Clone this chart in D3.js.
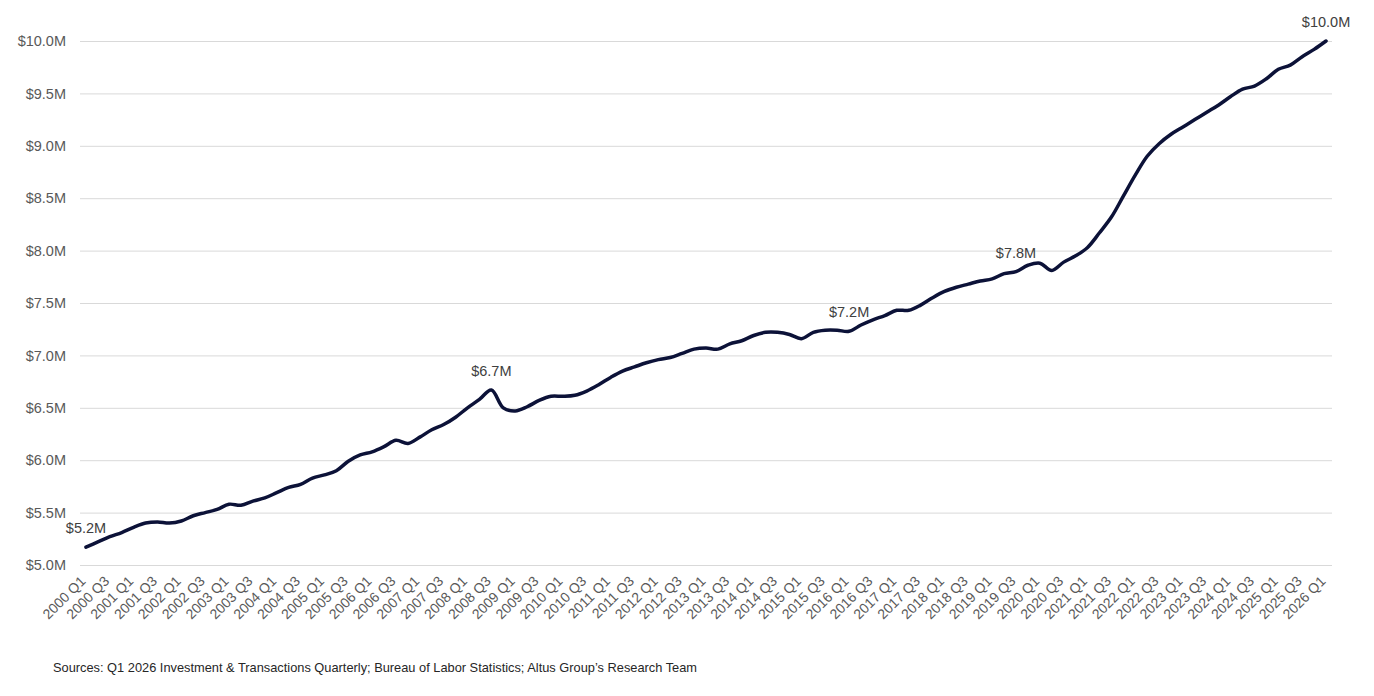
<!DOCTYPE html>
<html>
<head>
<meta charset="utf-8">
<script src="https://cdn.jsdelivr.net/npm/d3@7"></script>
<style>
  body { margin: 0; background: #fff; }
  text { font-family: "Liberation Sans", Arial, sans-serif; }
</style>
</head>
<body>
<svg class="chart-svg"></svg>
<script>
let margin = ({top: 41, right: 42, bottom: 131, left: 80});
let size = {width: 1374, height: 696};
const innerWidth = size.width - margin.left - margin.right;
const innerHeight = size.height - margin.top - margin.bottom;

// quarters 2000 Q1 .. 2026 Q1
const years = d3.range(2000, 2027);
const quarters = years.flatMap(y => [1, 2, 3, 4].map(q => y + ' Q' + q)).slice(0, 105);

// value, $M
const values = [
    5.17, 5.22, 5.27, 5.31, 5.36, 5.40, 5.41, 5.40, 5.42, 5.47,
    5.50, 5.53, 5.58, 5.57, 5.61, 5.64, 5.69, 5.74, 5.77, 5.83,
    5.86, 5.90, 5.99, 6.05, 6.08, 6.13, 6.19, 6.16, 6.22, 6.29,
    6.34, 6.41, 6.50, 6.58, 6.67, 6.50, 6.47, 6.51, 6.57, 6.61,
    6.61, 6.62, 6.66, 6.72, 6.79, 6.85, 6.89, 6.93, 6.96, 6.98,
    7.02, 7.06, 7.07, 7.06, 7.11, 7.14, 7.19, 7.22, 7.22, 7.20,
    7.16, 7.22, 7.24, 7.24, 7.23, 7.29, 7.34, 7.38, 7.43, 7.43,
    7.48, 7.55, 7.61, 7.65, 7.68, 7.71, 7.73, 7.78, 7.80, 7.86,
    7.88, 7.81, 7.89, 7.95, 8.03, 8.17, 8.32, 8.52, 8.72, 8.90,
    9.02, 9.11, 9.18, 9.25, 9.32, 9.39, 9.47, 9.54, 9.57, 9.64,
    9.73, 9.77, 9.85, 9.92, 10.00
];

// labelled points
const labelled = ['2000 Q1', '2008 Q3', '2016 Q1', '2019 Q3', '2026 Q1'];
const yTicks = [5.0, 5.5, 6.0, 6.5, 7.0, 7.5, 8.0, 8.5, 9.0, 9.5, 10.0];
const sourceText = 'Sources: Q1 2026 Investment & Transactions Quarterly; Bureau of Labor Statistics; Altus Group\u2019s Research Team';

const data = quarters.map((q, i) => ({q: q, v: values[i]}));

let svg = d3.select(".chart-svg")
    .attr('width', size.width)
    .attr('height', size.height);

let g = svg.append('g')
    .attr('transform', `translate(${margin.left},${margin.top})`);

let x = d3.scalePoint()
    .domain(quarters)
    .range([0, innerWidth])
    .padding(0.5);

let y = d3.scaleLinear()
    .domain([5, 10])
    .range([innerHeight, 0]);

// gridlines + y labels
let yAxis = g.append('g')
    .call(d3.axisLeft(y)
        .tickValues(yTicks)
        .tickSize(-innerWidth)
        .tickPadding(14)
        .tickFormat(d => '$' + d3.format('.1f')(d) + 'M'));
yAxis.select('.domain').remove();
yAxis.selectAll('line').attr('stroke', '#d9d9d9').attr('stroke-width', 1);
yAxis.selectAll('text')
    .attr('fill', '#595959')
    .style('font-size', '14.5px');

// x labels (Q1 and Q3 only)
let xAxis = g.append('g')
    .attr('transform', `translate(0,${innerHeight})`)
    .call(d3.axisBottom(x)
        .tickValues(quarters.filter((d, i) => i % 2 === 0))
        .tickSize(0)
        .tickPadding(0));
xAxis.select('.domain').remove();
xAxis.selectAll('text')
    .attr('fill', '#595959')
    .style('font-size', '14px')
    .attr('text-anchor', 'end')
    .attr('dy', null)
    .attr('y', null)
    .attr('transform', 'translate(0,17) rotate(-45)');

// line
let line = d3.line()
    .x(d => x(d.q))
    .y(d => y(d.v))
    .curve(d3.curveCatmullRom.alpha(0.5));

g.append('path')
    .datum(data)
    .attr('fill', 'none')
    .attr('stroke', '#0c1238')
    .attr('stroke-width', 3.5)
    .attr('stroke-linejoin', 'round')
    .attr('stroke-linecap', 'round')
    .attr('d', line);

// data labels
g.selectAll('.lbl')
    .data(data.filter(d => labelled.includes(d.q)))
    .join('text')
    .attr('class', 'lbl')
    .attr('x', d => x(d.q))
    .attr('y', d => y(d.v) - 14)
    .attr('text-anchor', 'middle')
    .attr('fill', '#404040')
    .style('font-size', '14.5px')
    .text(d => '$' + d3.format('.1f')(d.v) + 'M');

// source
svg.append('text')
    .attr('x', 53)
    .attr('y', 672)
    .attr('fill', '#262626')
    .style('font-size', '13px')
    .attr('textLength', 644)
    .attr('lengthAdjust', 'spacingAndGlyphs')
    .text(sourceText);
</script>
</body>
</html>
